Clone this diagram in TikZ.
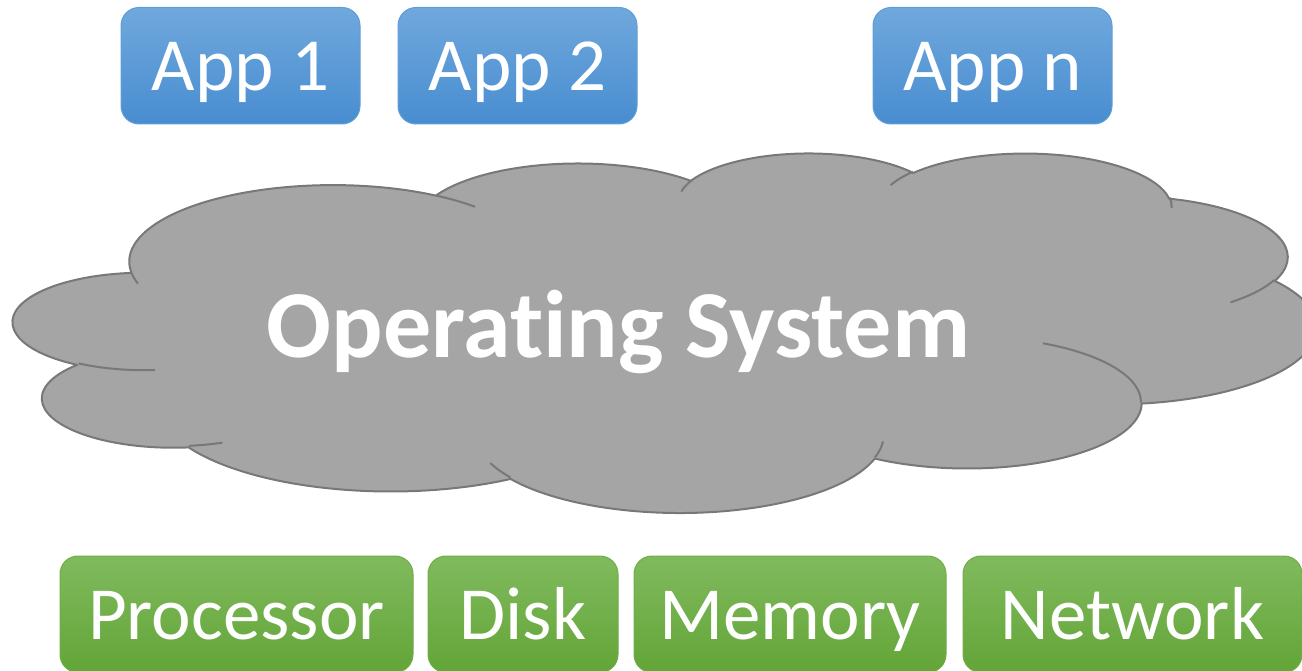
\documentclass[tikz,border=0pt]{standalone}
\usepackage{fontspec}
\setmainfont{Carlito}[Ligatures=NoCommon]

\definecolor{appTop}{RGB}{112,168,221}
\definecolor{appBot}{RGB}{72,141,208}
\definecolor{appLine}{RGB}{96,158,214}
\definecolor{hwTop}{RGB}{128,186,94}
\definecolor{hwBot}{RGB}{99,165,55}
\definecolor{hwLine}{RGB}{112,173,71}
\definecolor{cloudFill}{RGB}{165,165,165}
\definecolor{cloudLine}{RGB}{120,120,120}

% cloud geometry (Office preset "cloud", path units 43200)
\def\cW{1303}\def\cH{359.4}\def\cX{13.5}\def\cY{152.3}
\newcommand\cldmove[2]{%
  \edef\cpx{\fpeval{round(\cX+(#1)*\cW/43200,4)}}%
  \edef\cpy{\fpeval{round(\cY+(#2)*\cH/43200,4)}}%
  \edef\cldpath{\cldpath (\cpx,-\cpy)}}
\newcommand\cldarc[4]{%
  \edef\cta{\fpeval{(#3)/60000}}%
  \edef\ctb{\fpeval{((#3)+(#4))/60000}}%
  \edef\cda{\fpeval{atand((#1)*sind(\cta),(#2)*cosd(\cta))-(\cta)}}%
  \edef\cpa{\fpeval{(\cta)+(\cda)-360*round((\cda)/360)}}%
  \edef\cdb{\fpeval{atand((#1)*sind(\ctb),(#2)*cosd(\ctb))-(\ctb)}}%
  \edef\cpb{\fpeval{(\ctb)+(\cdb)-360*round((\cdb)/360)}}%
  \edef\crx{\fpeval{round((#1)*\cW/43200,4)}}%
  \edef\cry{\fpeval{round((#2)*\cH/43200,4)}}%
  \edef\ccx{\fpeval{(\cpx)-(\crx)*cosd(\cpa)}}%
  \edef\ccy{\fpeval{(\cpy)-(\cry)*sind(\cpa)}}%
  \edef\cldpath{\cldpath arc[start angle=\fpeval{round(-(\cpa),4)}, end angle=\fpeval{round(-(\cpb),4)}, x radius=\crx pt, y radius=\cry pt]}%
  \edef\cpx{\fpeval{round((\ccx)+(\crx)*cosd(\cpb),4)}}%
  \edef\cpy{\fpeval{round((\ccy)+(\cry)*sind(\cpb),4)}}}

\def\cldpath{}
\cldmove{3900}{14370}
\cldarc{6753}{9190}{-11429249}{7426832}
\cldarc{5333}{7267}{-8646143}{5396714}
\cldarc{4365}{5945}{-8748475}{5983381}
\cldarc{4857}{6595}{-7859164}{7034504}
\cldarc{5333}{7273}{-4722533}{6541615}
\cldarc{6775}{9220}{-2776035}{7816140}
\cldarc{5785}{7867}{37501}{6842000}
\cldarc{6752}{9215}{1347096}{6910353}
\cldarc{7720}{10543}{3974558}{4542661}
\cldarc{4360}{5918}{-16496525}{8804134}
\cldarc{4345}{5945}{-14809710}{9151131}
\let\cldouter\cldpath

\def\cldpath{}
\cldmove{4693}{26177}\cldarc{4345}{5945}{5204520}{1585770}
\cldmove{6928}{34899}\cldarc{4360}{5918}{4416628}{686848}
\cldmove{16478}{39090}\cldarc{6752}{9215}{8257449}{844866}
\cldmove{28827}{34751}\cldarc{6752}{9215}{387196}{959901}
\cldmove{34129}{22954}\cldarc{5785}{7867}{-4217541}{4255042}
\cldmove{41798}{15354}\cldarc{5333}{7273}{1819082}{1665090}
\cldmove{38324}{5426}\cldarc{4857}{6595}{-824660}{891534}
\cldmove{29078}{3952}\cldarc{4857}{6595}{-8950887}{1091722}
\cldmove{22141}{4720}\cldarc{4365}{5945}{-9809656}{1061181}
\cldmove{14000}{5192}\cldarc{6753}{9190}{-4002417}{739161}
\cldmove{4127}{15789}\cldarc{6753}{9190}{9459261}{711490}
\let\cldinner\cldpath

\begin{document}
\begin{tikzpicture}[x=1pt,y=1pt,
  box/.style={rounded corners=18pt, minimum height=116.5pt, inner sep=0pt,
    text height=65pt, text depth=15pt, font=\fontsize{75}{90}\selectfont,
    text=white, line width=1pt},
  appbox/.style={box, top color=appTop, bottom color=appBot, draw=appLine},
  hwbox/.style={box, top color=hwTop, bottom color=hwBot, draw=hwLine},
  cloudshape/.style={fill=cloudFill, draw=cloudLine, line width=2pt, line join=round},
  cloudedge/.style={draw=cloudLine, line width=2pt, line cap=butt},
  ostext/.style={anchor=base, inner sep=0pt, text=white,
    font=\bfseries\fontsize{96}{110}\selectfont}]
\useasboundingbox (0,0) rectangle (1302,-671);
\clip (0,0) rectangle (1302,-671);

% cloud
\edef\cldtmp{\noexpand\path[cloudshape] \cldouter -- cycle;}\cldtmp
\edef\cldtmp{\noexpand\path[cloudedge] \cldinner;}\cldtmp
\node[ostext] (os) at (618.5,-357) {Operating System};

% applications
\node[appbox, minimum width=239pt] (a1) at (240.5,-65.75) {App 1};
\node[appbox, minimum width=239pt] (a2) at (517.5,-65.75) {App 2};
\node[appbox, minimum width=239pt] (an) at (992.5,-65.75) {App n};

% hardware
\node[hwbox, minimum width=353pt] (cpu) at (236.5,-614.25) {Processor};
\node[hwbox, minimum width=190pt] (disk) at (523,-614.25) {Disk};
\node[hwbox, minimum width=312pt] (mem) at (790,-614.25) {Memory};
\node[hwbox, minimum width=339pt] (net) at (1132.5,-614.25) {Network};
\end{tikzpicture}
\end{document}
